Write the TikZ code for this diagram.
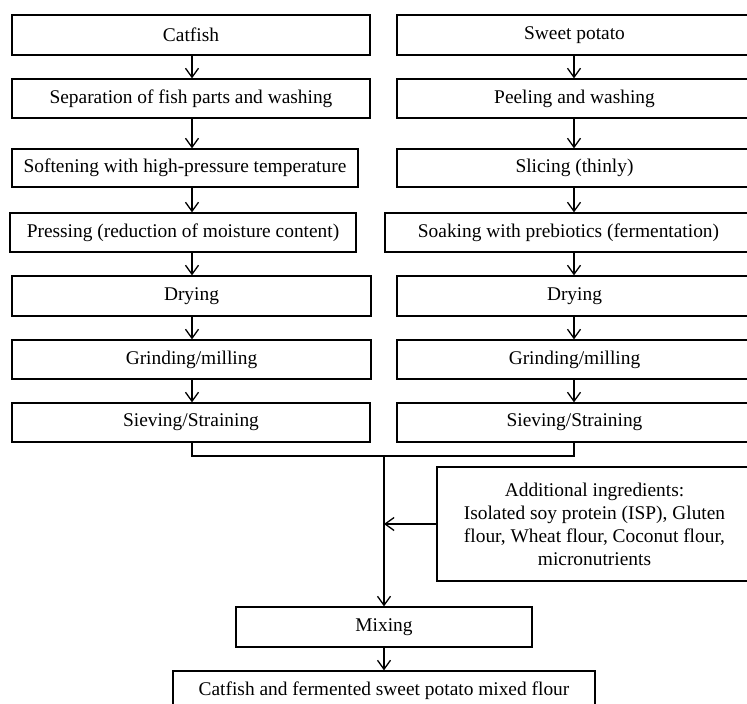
\documentclass[tikz,border=0pt]{standalone}
\usepackage{fontspec}
\setmainfont{Liberation Serif}
\usetikzlibrary{arrows.meta}
\begin{document}
\begin{tikzpicture}[x=1pt,y=-1pt,
  box/.style={draw, line width=1.3pt, inner sep=0pt, align=center,
    font=\fontsize{19.4}{23}\selectfont},
  arr/.style={line width=1.3pt, -{Straight Barb[length=9pt,width=13pt,line width=1.3pt]}},
  ln/.style={line width=1.3pt}]
\useasboundingbox (0,0) rectangle (747,704);
% left column
\node[box, minimum width=358pt, minimum height=40pt] (l1) at (191,35) {Catfish};
\node[box, minimum width=358pt, minimum height=39pt] (l2) at (191,98.5) {Separation of fish parts and washing};
\node[box, minimum width=346pt, minimum height=38pt] (l3) at (185,168) {Softening with high-pressure temperature};
\node[box, minimum width=346pt, minimum height=39pt] (l4) at (183,232.5) {Pressing (reduction of moisture content)};
\node[box, minimum width=359pt, minimum height=40pt] (l5) at (191.5,296) {Drying};
\node[box, minimum width=359pt, minimum height=39pt] (l6) at (191.5,359.5) {Grinding/milling};
\node[box, minimum width=358pt, minimum height=39pt] (l7) at (191,422.5) {Sieving/Straining};
% right column
\node[box, minimum width=355pt, minimum height=40pt] (r1) at (574.5,35) {Sweet potato};
\node[box, minimum width=355pt, minimum height=39pt] (r2) at (574.5,98.5) {Peeling and washing};
\node[box, minimum width=355pt, minimum height=38pt] (r3) at (574.5,168) {Slicing (thinly)};
\node[box, minimum width=367pt, minimum height=39pt] (r4) at (568.5,232.5) {Soaking with prebiotics (fermentation)};
\node[box, minimum width=355pt, minimum height=40pt] (r5) at (574.5,296) {Drying};
\node[box, minimum width=355pt, minimum height=39pt] (r6) at (574.5,359.5) {Grinding/milling};
\node[box, minimum width=355pt, minimum height=39pt] (r7) at (574.5,422.5) {Sieving/Straining};
% additional, mixing, final
\node[box, minimum width=315pt, minimum height=114pt] (add) at (594.5,524)
  {Additional ingredients:\\Isolated soy protein (ISP), Gluten\\flour, Wheat flour, Coconut flour,\\micronutrients};
\node[box, minimum width=296pt, minimum height=40pt] (mix) at (384,627) {Mixing};
\node[box, minimum width=422pt, minimum height=40pt] (fin) at (384,691) {Catfish and fermented sweet potato mixed flour};
% guide coordinates
\coordinate (L) at (192,0);
\coordinate (R) at (574,0);
\coordinate (M) at (384,0);
\coordinate (J) at (0,456);
% column arrows
\foreach \a/\b in {l1/l2,l2/l3,l3/l4,l4/l5,l5/l6,l6/l7}
  \draw[arr] (\a.south -| L) -- (\b.north -| L);
\foreach \a/\b in {r1/r2,r2/r3,r3/r4,r4/r5,r5/r6,r6/r7}
  \draw[arr] (\a.south -| R) -- (\b.north -| R);
% join
\draw[ln] (l7.south -| L) -- (J -| L) -- (J -| R) -- (r7.south -| R);
\draw[arr] (J -| M) -- (mix.north -| M);
\draw[arr] (add.west) -- (add.west -| M);
\draw[arr] (mix.south -| M) -- (fin.north -| M);
\end{tikzpicture}
\end{document}
